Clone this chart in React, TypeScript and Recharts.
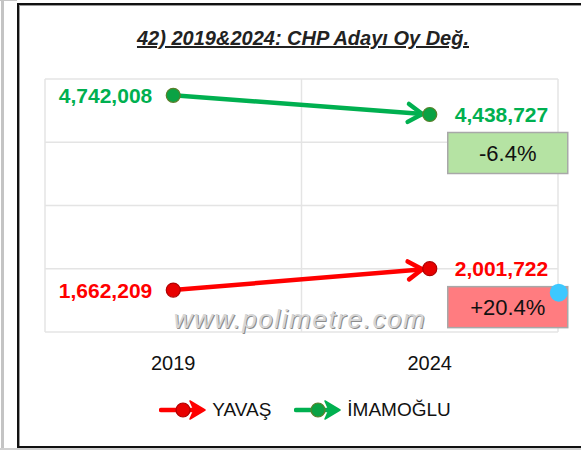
import { LineChart, Line, XAxis, YAxis, CartesianGrid, LabelList } from 'recharts';

const years = ['2019', '2024'];
const yavasVotes = [1662209, 2001722];
const imamogluVotes = [4742008, 4438727];
const yTicks = [1000000, 2000000, 3000000, 4000000, 5000000];

const data = years.map((year, i) => ({
  year,
  yavas: yavasVotes[i],
  imamoglu: imamogluVotes[i],
}));

const FONT = '"Liberation Sans", Arial, sans-serif';
const GREEN = '#00B050';
const RED = '#FF0000';

function pctChange(values: number[]) {
  const c = (values[1] / values[0] - 1) * 100;
  return `${c > 0 ? '+' : ''}${c.toFixed(1)}%`;
}

function makeLabel(color: string, values: number[], boxFill: string, handle: boolean) {
  return (props: any) => {
    const x = props.viewBox?.x ?? props.x;
    const y = props.viewBox?.y ?? props.y;
    const text = Number(props.value).toLocaleString('en-US');
    const common = {
      fill: color, fontSize: 21, fontWeight: 700, fontFamily: FONT,
      dominantBaseline: 'central' as const,
    };
    if (props.index === 0) {
      return <text x={x - 21} y={y} textAnchor="end" {...common}>{text}</text>;
    }
    return (
      <g>
        <text x={x + 25} y={y} textAnchor="start" {...common}>{text}</text>
        <rect x={x + 18} y={y + 18} width={120} height={41} fill={boxFill} stroke="#a8a8a8" strokeWidth={1.5} />
        <text
          x={x + 78} y={y + 39} textAnchor="middle" dominantBaseline="central"
          fontSize={22} fontFamily={FONT} fill="#111"
        >
          {pctChange(values)}
        </text>
        {handle && <circle cx={x + 129} cy={y + 24} r={9} fill="#3CC8FF" />}
      </g>
    );
  };
}

const renderDot = (fill: string, stroke: string) => (p: any) => (
  <circle key={`d-${p.index}`} cx={p.cx} cy={p.cy} r={7} fill={fill} stroke={stroke} strokeWidth={1.2} />
);

function LegendIcon({ color, dotFill, dotStroke }: { color: string; dotFill: string; dotStroke: string }) {
  return (
    <svg width={48} height={22} style={{ display: 'block' }}>
      <line x1={2} y1={11} x2={36} y2={11} stroke={color} strokeWidth={4.5} strokeLinecap="round" />
      <path d="M31 2 L46 11 L31 20 L35 11 Z" fill={color} stroke={color} strokeWidth={1.5} strokeLinejoin="round" />
      <circle cx={24} cy={11} r={7} fill={dotFill} stroke={dotStroke} strokeWidth={1.2} />
    </svg>
  );
}

export default function App() {
  return (
    <div style={{ position: 'absolute', left: 0, top: 0, width: 581, height: 450, background: '#fff', overflow: 'hidden' }}>
      {/* sheet frame */}
      <div style={{ position: 'absolute', left: 1, top: 0, width: 3, height: 450, background: '#c4c4c4' }} />
      <div style={{ position: 'absolute', left: 0, top: 0, width: 17, height: 1, background: '#c4c4c4' }} />
      <div style={{ position: 'absolute', left: 0, top: 448, width: 581, height: 2, background: '#d0d0d0' }} />
      <div
        style={{
          position: 'absolute', left: 17, top: 3, width: 600, height: 441,
          border: '2px solid #111', boxShadow: 'inset 1px 1px 0 #999',
        }}
      />

      <svg width={0} height={0} style={{ position: 'absolute' }}>
        <defs>
          {[['arrowGreen', GREEN], ['arrowRed', RED]].map(([id, c]) => (
            <marker
              key={id} id={id} markerUnits="userSpaceOnUse" orient="auto"
              viewBox="-20 -12 30 24" markerWidth={30} markerHeight={24} refX={7.5} refY={0}
              overflow="visible"
            >
              <path d="M -14 -9 L 0 0 L -14 9" fill="none" stroke={c} strokeWidth={4.5} strokeLinecap="round" strokeLinejoin="round" />
            </marker>
          ))}
        </defs>
      </svg>

      <div
        style={{
          position: 'absolute', left: 103, top: 27, width: 400, textAlign: 'center',
          fontFamily: FONT, fontSize: 20, fontWeight: 700, fontStyle: 'italic',
          textDecoration: 'underline', color: '#222', lineHeight: '22px',
        }}
      >
        42) 2019&amp;2024: CHP Adayı Oy Değ.
      </div>

      <div style={{ position: 'absolute', left: 0, top: 0 }}>
        <LineChart width={581} height={450} data={data} margin={{ top: 79, right: 23, bottom: 88, left: 45 }}>
          <CartesianGrid
            stroke="#e4e4e4"
            strokeWidth={1.5}
            verticalCoordinatesGenerator={({ offset }: any) => [
              offset.left, offset.left + offset.width / 2, offset.left + offset.width,
            ]}
          />
          <XAxis
            dataKey="year"
            scale="band"
            height={30}
            axisLine={false}
            tickLine={false}
            tickMargin={18}
            tick={{ fontSize: 20, fill: '#111', fontFamily: FONT }}
          />
          <YAxis hide domain={[1000000, 5000000]} ticks={yTicks} />
          <Line
            dataKey="imamoglu"
            stroke={GREEN}
            strokeWidth={4.5}
            markerEnd="url(#arrowGreen)"
            dot={renderDot('#0AA244', '#5B7F2A')}
            activeDot={false}
            isAnimationActive={false}
          >
            <LabelList dataKey="imamoglu" content={makeLabel(GREEN, imamogluVotes, '#B5E3A3', false)} />
          </Line>
          <Line
            dataKey="yavas"
            stroke={RED}
            strokeWidth={4.5}
            markerEnd="url(#arrowRed)"
            dot={renderDot('#E80000', '#B00000')}
            activeDot={false}
            isAnimationActive={false}
          >
            <LabelList dataKey="yavas" content={makeLabel(RED, yavasVotes, '#FF7C80', true)} />
          </Line>
        </LineChart>
      </div>

      <div
        style={{
          position: 'absolute', left: 0, top: 303, width: 600, textAlign: 'center',
          fontFamily: FONT, fontSize: 26, fontStyle: 'italic', letterSpacing: 1.6,
          color: '#d6d6d6', textShadow: '1px 1px 0 #8c8c8c', lineHeight: '32px', pointerEvents: 'none',
        }}
      >
        www.polimetre.com
      </div>

      <div
        style={{
          position: 'absolute', left: 0, top: 399, width: 610, display: 'flex',
          justifyContent: 'center', alignItems: 'center', fontFamily: FONT, fontSize: 19, color: '#111',
        }}
      >
        <LegendIcon color={RED} dotFill="#E80000" dotStroke="#B00000" />
        <span style={{ marginLeft: 5, marginRight: 23 }}>YAVAŞ</span>
        <LegendIcon color={GREEN} dotFill="#0AA244" dotStroke="#5B7F2A" />
        <span style={{ marginLeft: 5 }}>İMAMOĞLU</span>
      </div>
    </div>
  );
}
